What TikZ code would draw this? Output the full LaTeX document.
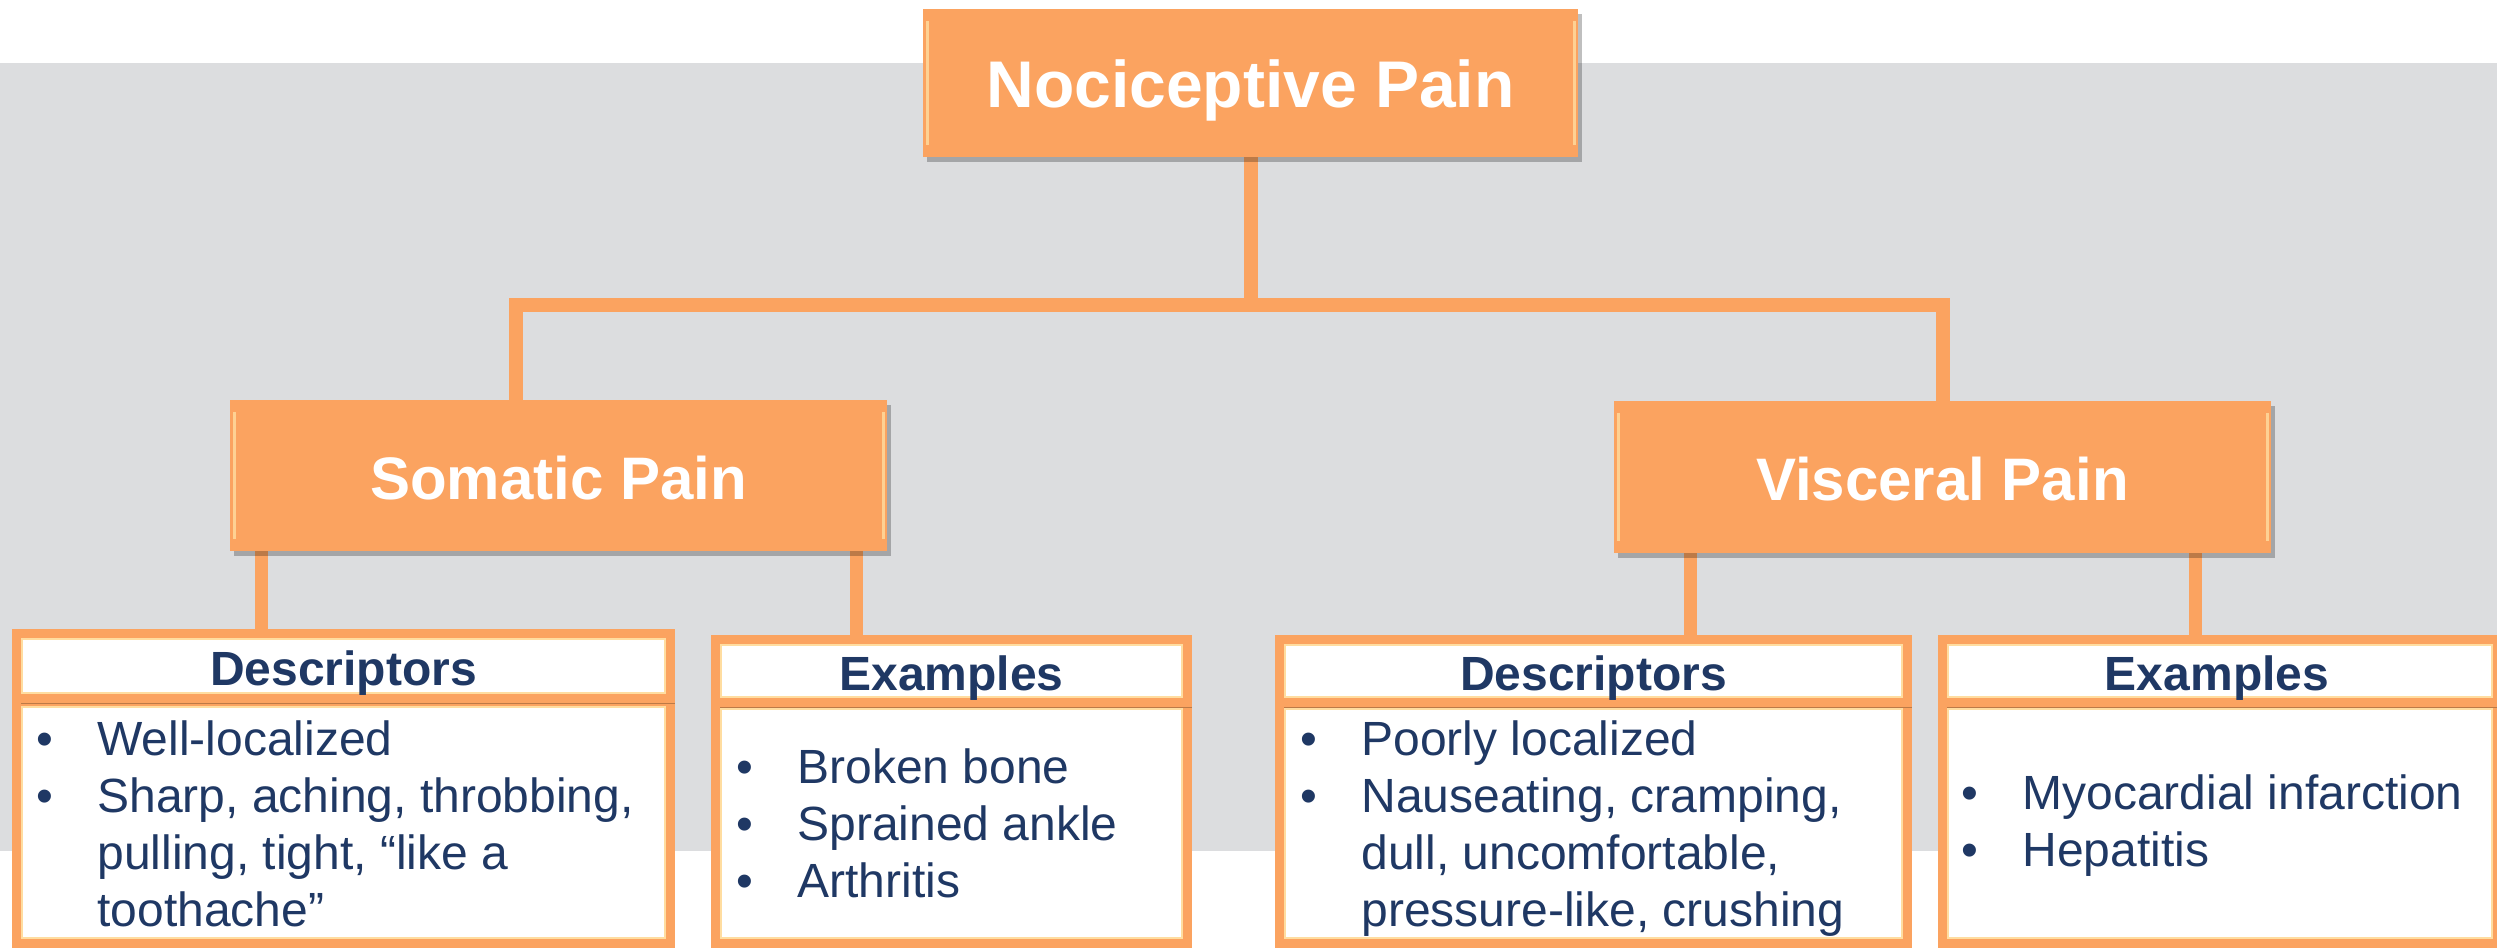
\documentclass[tikz,border=0pt]{standalone}
\usepackage{fontspec}
\setmainfont{Liberation Sans}
\usetikzlibrary{fit,calc,shadows}
\definecolor{org}{HTML}{FBA360}
\definecolor{band}{HTML}{DCDDDF}
\definecolor{navy}{HTML}{1F3864}
\definecolor{hl}{HTML}{FFDDA0}
\pgfdeclarelayer{bg}
\pgfsetlayers{bg,main}
\newcommand\bul{\llap{\textbullet\hspace{22pt}}}
\begin{document}
\begin{tikzpicture}[x=0.5pt,y=-0.5pt, line join=miter,
  shad/.style={drop shadow={shadow xshift=2pt, shadow yshift=-2.5pt, opacity=0.25, fill=black}},
  topbev/.style={path picture={
      \draw[hl, line width=1.5pt, opacity=0.8] ([shift={(2pt,-6pt)}]path picture bounding box.north west) -- ([shift={(2pt,6pt)}]path picture bounding box.south west);
      \draw[hl, line width=1.5pt, opacity=0.8] ([shift={(-2pt,-6pt)}]path picture bounding box.north east) -- ([shift={(-2pt,6pt)}]path picture bounding box.south east);}},
  lowbev/.style={path picture={
      \draw[hl, line width=1pt] ([shift={(2.75pt,-2.75pt)}]path picture bounding box.north west) rectangle ([shift={(-2.75pt,2.75pt)}]path picture bounding box.south east);}},
  topbox/.style={fill=org, inner sep=0pt, shad, topbev},
  hdr/.style={draw=org, line width=4.5pt, fill=white, inner sep=0pt, shad, lowbev},
  bodybox/.style={draw=org, line width=4.5pt, fill=white, inner sep=0pt, shad, lowbev},
  toptxt/.style={anchor=base, inner sep=0pt, text=white, font=\bfseries\fontsize{33}{33}\selectfont},
  midtxt/.style={toptxt, font=\bfseries\fontsize{30}{30}\selectfont},
  hdrtxt/.style={anchor=base, inner sep=0pt, text=navy, font=\bfseries\fontsize{24}{24}\selectfont},
  conn/.style={draw=org, line width=7pt},
  conntwo/.style={draw=org, line width=6.5pt},
  itm/.style={anchor=base west, inner sep=0pt, text=navy, font=\fontsize{24}{24}\selectfont},
]
\useasboundingbox (0,0) rectangle (2497,948);
\begin{pgfonlayer}{bg}
  \fill[band] (0,63) rectangle (2497,851);
\end{pgfonlayer}

% main boxes
\node[topbox, fit={(923,9)(1578,157)}] (noci) {};
\node[toptxt] (nocit) at ($(noci.center)+(0,24)$) {Nociceptive Pain};
\node[topbox, fit={(230,400)(887,551)}] (som) {};
\node[midtxt] (somt) at ($(som.center)+(0,23.5)$) {Somatic Pain};
\node[topbox, fit={(1614,401)(2271,553)}] (visc) {};
\node[midtxt] (visct) at ($(visc.center)+(0,23)$) {Visceral Pain};

% lower boxes
\node[bodybox, fit={(16.5,701.5)(670.5,943.5)}] (sdb) {};
\node[hdr, fit={(16.5,633.5)(670.5,698.5)}] (sdh) {};
\node[hdrtxt] (sdht) at ($(sdh.center)+(0,19)$) {Descriptors};
\node[bodybox, fit={(715.5,703.5)(1187.5,943.5)}] (seb) {};
\node[hdr, fit={(715.5,639.5)(1187.5,702.5)}] (seh) {};
\node[hdrtxt] (seht) at ($(seh.center)+(0,19)$) {Examples};
\node[bodybox, fit={(1279.5,703.5)(1907.5,943.5)}] (vdb) {};
\node[hdr, fit={(1279.5,639.5)(1907.5,702.5)}] (vdh) {};
\node[hdrtxt] (vdht) at ($(vdh.center)+(0,19)$) {Descriptors};
\node[bodybox, fit={(1942.5,703.5)(2497.5,943.5)}] (veb) {};
\node[hdr, fit={(1942.5,639.5)(2497.5,702.5)}] (veh) {};
\node[hdrtxt] (veht) at ($(veh.center)+(-3,19)$) {Examples};

% list texts
\node[itm] (sd1) at (97,755) {\bul Well-localized};
\node[itm] (sd2) at (97,812) {\bul Sharp, aching, throbbing,};
\node[itm] (sd3) at (97,869) {pulling, tight, “like a};
\node[itm] (sd4) at (97,926) {toothache”};

\node[itm] (se1) at (797,783) {\bul Broken bone};
\node[itm] (se2) at (797,840) {\bul Sprained ankle};
\node[itm] (se3) at (797,897) {\bul Arthritis};

\node[itm] (vd1) at (1361,755) {\bul Poorly localized};
\node[itm] (vd2) at (1361,812) {\bul Nauseating, cramping,};
\node[itm] (vd3) at (1361,869) {dull, uncomfortable,};
\node[itm] (vd4) at (1361,926) {pressure-like, crushing};

\node[itm] (ve1) at (2022,809) {\bul Myocardial infarction};
\node[itm] (ve2) at (2022,866) {\bul Hepatitis};

% connectors
\coordinate (bar) at (1250.5,305);
\coordinate (sa) at ($(som.north west)+(286,0)$);
\coordinate (s1) at ($(som.south west)+(32,0)$);
\coordinate (s2) at ($(som.south west)+(627,0)$);
\coordinate (v1) at ($(visc.south west)+(77,0)$);
\coordinate (v2) at ($(visc.south west)+(582,0)$);
\begin{pgfonlayer}{bg}
  \draw[conn] (noci.south) -- (bar);
  \draw[conn] (sa) |- (bar) -| (visc.north);
  \draw[conntwo] (s1) -- (s1 |- sdh.north);
  \draw[conntwo] (s2) -- (s2 |- seh.north);
  \draw[conntwo] (v1) -- (v1 |- vdh.north);
  \draw[conntwo] (v2) -- (v2 |- veh.north);
\end{pgfonlayer}
\end{tikzpicture}
\end{document}
